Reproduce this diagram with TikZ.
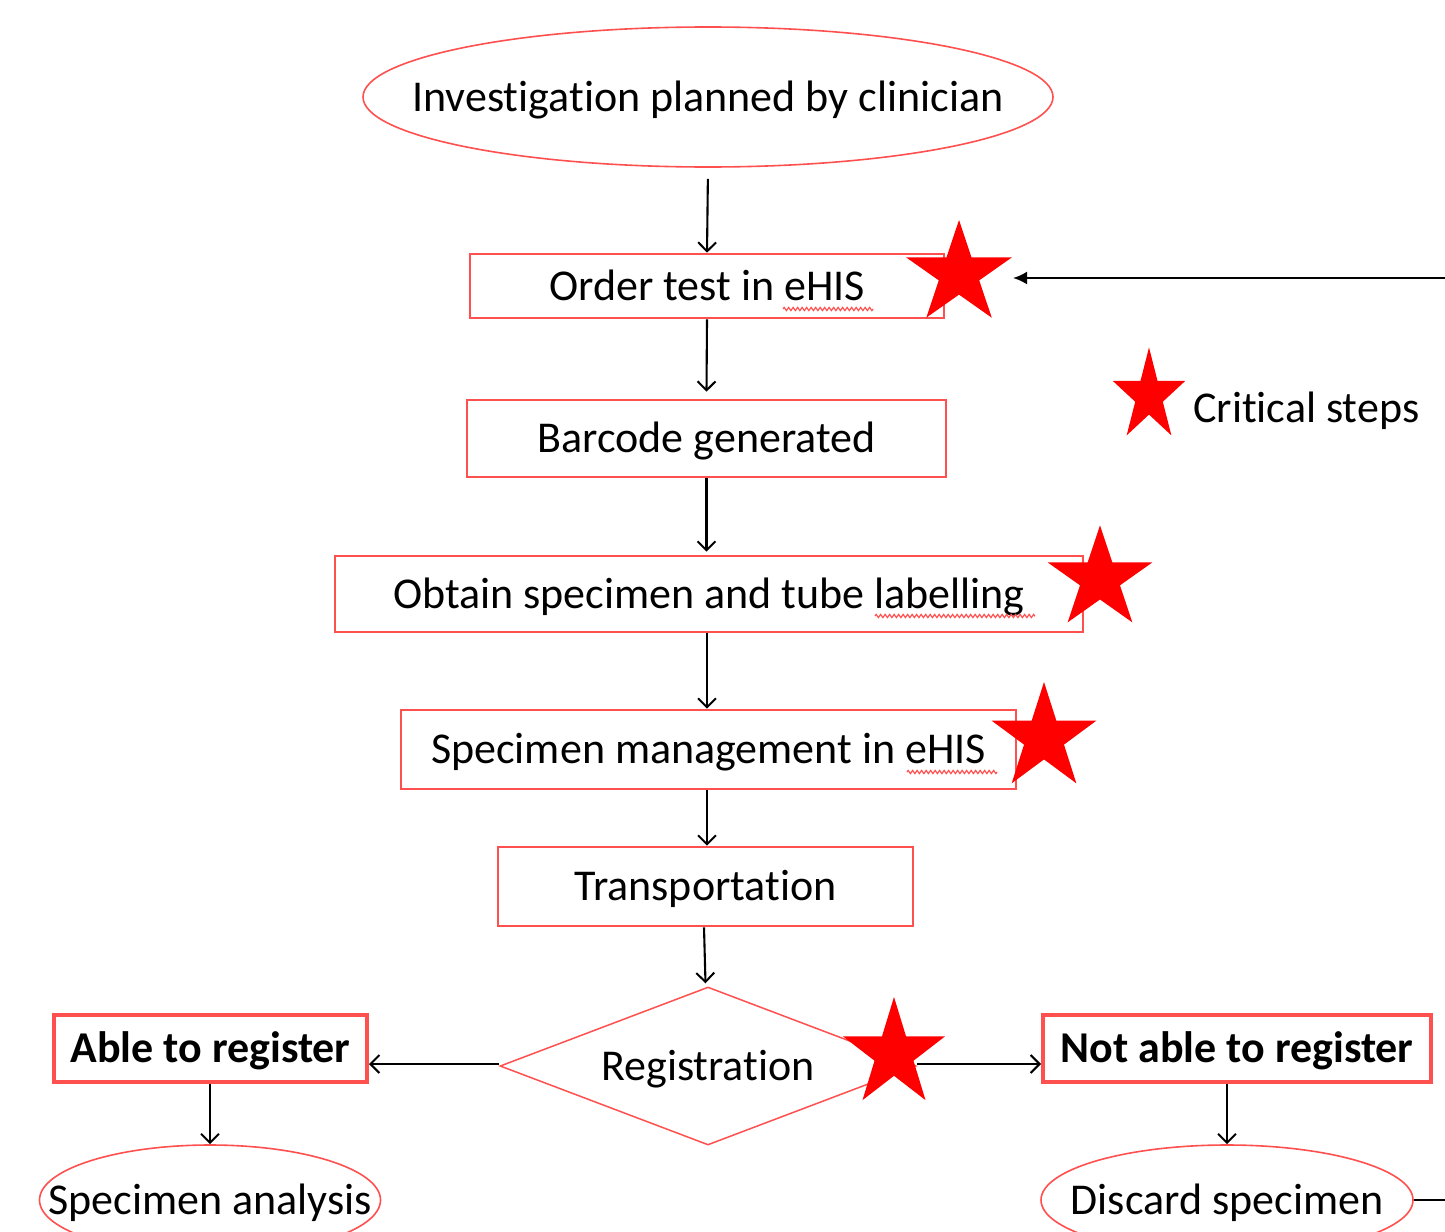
\documentclass[tikz,border=0pt]{standalone}
\usepackage{fontspec}
\setmainfont[Ligatures=NoCommon]{Carlito}
\usetikzlibrary{shapes.geometric,arrows.meta,decorations.pathmorphing,calc}
\definecolor{boxred}{RGB}{255,80,80}
\definecolor{starred}{RGB}{255,0,0}
\newcommand{\critstar}[4]{\fill[starred,shift={(#1,#2)},xscale=#3,yscale=#4] (90:1pt) \foreach \a/\f in {126/0.382,162/1,198/0.382,234/1,270/0.382,306/1,342/0.382,18/1,54/0.382}{ -- (\a:\f pt)} -- cycle;}
\begin{document}
\begin{tikzpicture}[x=1pt,y=1pt,
  every node/.style={font=\fontsize{44pt}{50pt}\selectfont, inner sep=0pt, text height=28pt, text depth=0pt},
  stepbox/.style={draw=boxred, line width=2.6pt, rectangle},
  boldbox/.style={draw=boxred, line width=4pt, rectangle, font=\fontsize{44pt}{50pt}\selectfont\bfseries},
  oval/.style={draw=boxred, line width=1.6pt, ellipse},
  flow/.style={draw=black, line width=2.1pt, -{Straight Barb[length=9pt,width=18pt,line width=2pt]}},
  squiggle/.style={draw=boxred, line width=1.2pt, decorate, decoration={zigzag, amplitude=1.6pt, segment length=4.5pt}}
]
\fill[white] (0,0) rectangle (1445,-1231);
\useasboundingbox (0,0) rectangle (1445,-1231);

\node[oval, minimum width=690pt, minimum height=140pt] (inv) at (708,-97) {};
\node (invt) at (inv.center) {Investigation planned by clinician};
\node[stepbox, minimum width=474pt, minimum height=64pt] (ord) at (707,-286) {Order test in eHIS};
\node[stepbox, minimum width=479pt, minimum height=77pt] (bar) at (706.5,-438.5) {Barcode generated};
\node[stepbox, minimum width=748pt, minimum height=76pt] (obt) at (709,-594) {Obtain specimen and tube labelling};
\node[stepbox, minimum width=615pt, minimum height=79pt] (spm) at (708.5,-749.5) {Specimen management in eHIS};
\node[stepbox, minimum width=415pt, minimum height=79pt] (tra) at (705.5,-886.5) {Transportation};
\node[draw=boxred, line width=1.5pt, diamond, minimum width=416pt, minimum height=158pt] (reg) at (708,-1066) {};
\node (regt) at (reg.center) {Registration};
\node[boldbox, minimum width=313pt, minimum height=67pt] (abl) at (210.5,-1048.5) {Able to register};
\node[boldbox, minimum width=388pt, minimum height=67pt] (nab) at (1237,-1048.5) {Not able to register};
\node[oval, minimum width=341pt, minimum height=110pt] (ana) at (210,-1200) {};
\node (anat) at (ana.center) {Specimen analysis};
\node[oval, minimum width=372pt, minimum height=110pt] (dis) at (1227,-1200) {};
\node (dist) at (dis.center) {Discard specimen};
\node[anchor=west] (leg) at (1193,-408) {Critical steps};

\coordinate (fbin) at (1445,-278);
\coordinate (fbend) at (1013,-278);
\coordinate (fbout) at (1445,-1200);

\draw[flow, shorten <=11pt] (inv.south) -- (ord.north);
\draw[flow] (ord.south) -- ([yshift=7pt]bar.north);
\draw[flow] (bar.south) -- ([yshift=3pt]bar.south |- obt.north);
\draw[flow] (obt.south -| ord.south) -- (spm.north -| ord.south);
\draw[flow] (spm.south -| ord.south) -- (tra.north -| ord.south);
\draw[flow] ([xshift=-1.5pt]tra.south) -- ([yshift=3pt]tra.south |- reg.north);
\draw[flow] ([yshift=2pt]reg.west) -- ([yshift=2pt]reg.west -| abl.east);
\draw[flow] ([yshift=2pt]reg.east) -- ([yshift=2pt]reg.east -| nab.west);
\draw[flow] (abl.south -| ana.north) -- (ana.north);
\draw[flow] (nab.south -| dis.north) -- (dis.north);
\draw[line width=2.2pt, -{Latex[length=14pt,width=13pt]}] (fbin) -- (fbend);
\draw[line width=2.2pt] (dis.east) -- (fbout);

\draw[squiggle] (783,-309) -- (873,-309);
\draw[squiggle] (875,-616) -- (1035,-616);
\draw[squiggle] (907,-772) -- (997,-772);

\critstar{959}{-274}{55.7}{54}
\critstar{1100}{-579}{55}{53.6}
\critstar{1044}{-738}{55}{56}
\critstar{894}{-1054}{53.6}{57}
\critstar{1149}{-396}{38}{48.6}
\end{tikzpicture}
\end{document}
